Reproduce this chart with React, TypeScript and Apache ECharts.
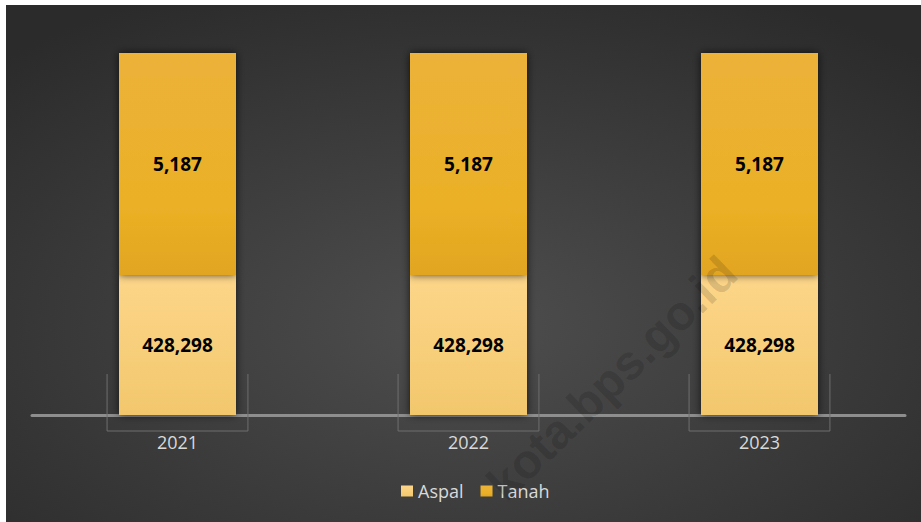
import React, { useEffect, useRef } from "react";
import * as echarts from "echarts";

const categories = ["2021", "2022", "2023"];
const legendNames = ["Aspal", "Tanah"];
// values printed on the bars
const aspalLabels = [428298, 428298, 428298];
const tanahLabels = [5187, 5187, 5187];
// segment heights as drawn in the picture (share of the bar's full height, %)
const aspalHeights = [38.7, 38.7, 38.7];
const tanahHeights = [61.3, 61.3, 61.3];

const fmt = (v: number) => v.toLocaleString("en-US");

export default function App() {
  const ref = useRef<HTMLDivElement>(null);
  useEffect(() => {
    if (!ref.current) return;
    const chart = echarts.init(ref.current, null, { renderer: "svg" });
    const labelStyle = {
      show: true,
      position: "inside" as const,
      color: "#000",
      fontFamily: "Open Sans",
      fontWeight: "bold" as const,
      fontSize: 19,
    };
    chart.setOption({
      animation: false,
      backgroundColor: "#ffffff",
      graphic: [
        {
          type: "rect",
          z: -10,
          silent: true,
          shape: { x: 6, y: 5, width: 915, height: 517 },
          style: {
            fill: new echarts.graphic.RadialGradient(0.5, 0.62, 0.72, [
              { offset: 0, color: "#4e4e4e" },
              { offset: 1, color: "#2b2b2b" },
            ]),
          },
        },
        {
          type: "text",
          z: 100,
          silent: true,
          x: 612,
          y: 378,
          rotation: (44 * Math.PI) / 180,
          style: {
            text: "kota.bps.go.id",
            font: "bold 48px 'Liberation Sans'",
            fill: "rgba(0,0,0,0.15)",
            align: "center",
            verticalAlign: "middle",
          },
        },
      ],
      grid: { left: 32, right: 16, top: 53, bottom: 107 },
      legend: {
        data: legendNames,
        bottom: 17,
        left: 396,
        icon: "rect",
        itemWidth: 12,
        itemHeight: 11,
        itemGap: 17,
        textStyle: { color: "#d9d9d9", fontFamily: "Open Sans", fontSize: 18 },
      },
      xAxis: {
        type: "category",
        data: categories,
        axisLine: { lineStyle: { color: "#8e8e8e", width: 3 } },
        axisTick: { show: false },
        axisLabel: {
          color: "#d9d9d9",
          fontFamily: "Open Sans",
          fontSize: 18,
          margin: 18,
        },
      },
      yAxis: {
        type: "value",
        min: 0,
        max: 100,
        show: false,
        splitLine: { show: false },
      },
      series: [
        {
          name: "Aspal",
          type: "bar",
          stack: "total",
          barWidth: 117,
          data: aspalHeights.map((h, i) => ({ value: h, label: { formatter: fmt(aspalLabels[i]) } })),
          itemStyle: {
            color: new echarts.graphic.LinearGradient(0, 0, 0, 1, [
              { offset: 0, color: "#fdd68a" },
              { offset: 1, color: "#f2c76c" },
            ]),
            shadowBlur: 8,
            shadowColor: "rgba(0,0,0,0.7)",
          },
          label: labelStyle,
        },
        {
          name: "Tanah",
          type: "bar",
          stack: "total",
          barWidth: 117,
          data: tanahHeights.map((h, i) => ({ value: h, label: { formatter: fmt(tanahLabels[i]) } })),
          itemStyle: {
            color: new echarts.graphic.LinearGradient(0, 0, 0, 1, [
              { offset: 0, color: "#ecb23a" },
              { offset: 0.7, color: "#ebb025" },
              { offset: 1, color: "#e2a522" },
            ]),
            shadowBlur: 8,
            shadowColor: "rgba(0,0,0,0.7)",
          },
          label: labelStyle,
        },
        {
          name: "brackets",
          type: "custom",
          silent: true,
          z: 1,
          data: categories.map((_, i) => [i]),
          encode: { x: 0 },
          renderItem: (params: any, api: any) => {
            const p = api.coord([api.value(0), 0]);
            const band = api.size([1, 0])[0];
            const half = band * 0.242;
            return {
              type: "polyline",
              shape: {
                points: [
                  [p[0] - half, p[1] - 41],
                  [p[0] - half, p[1] + 16],
                  [p[0] + half, p[1] + 16],
                  [p[0] + half, p[1] - 41],
                ],
              },
              style: { stroke: "#6e6e6e", lineWidth: 1, fill: "none" },
            };
          },
        },
      ],
    });
    return () => chart.dispose();
  }, []);
  return (
    <div
      ref={ref}
      style={{ position: "absolute", left: 0, top: 0, width: 921, height: 522 }}
    />
  );
}
